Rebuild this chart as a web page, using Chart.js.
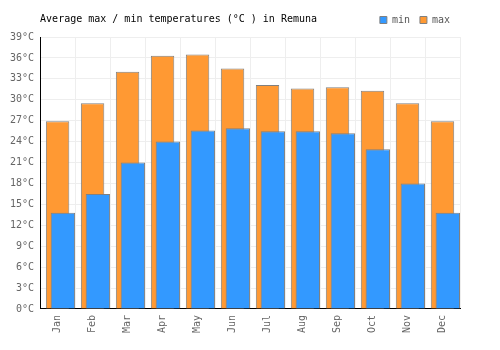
<!DOCTYPE html>
<html>
<head>
<meta charset="utf-8">
<script src="https://cdn.jsdelivr.net/npm/chart.js@4/dist/chart.umd.min.js"></script>
<style>
	body { margin: 0; background: #fff; }
	.chartBox { width: 500px; height: 350px; }
</style>
</head>
<body>
<div class="chartBox"><canvas id="myChart" width="500" height="350"></canvas></div>
<script>
// data
const months = ['Jan', 'Feb', 'Mar', 'Apr', 'May', 'Jun', 'Jul', 'Aug', 'Sep', 'Oct', 'Nov', 'Dec'];
const minTemps = [13.8, 16.5, 21.0, 24.0, 25.6, 25.9, 25.5, 25.5, 25.2, 22.9, 18.0, 13.8];
const maxTemps = [26.9, 29.5, 34.0, 36.3, 36.5, 34.5, 32.1, 31.6, 31.8, 31.3, 29.5, 26.9];
const titleText = 'Average max / min temperatures (°C ) in Remuna';

const FONT = 'DejaVu Sans Mono';

// title sits on the same row as the legend, so draw it by hand
const titlePlugin = {
	id: 'leftTitle',
	afterDraw(chart) {
		const ctx = chart.ctx;
		ctx.save();
		ctx.font = '10px "' + FONT + '"';
		ctx.fillStyle = '#000';
		ctx.textBaseline = 'middle';
		ctx.textAlign = 'left';
		ctx.fillText(titleText, chart.chartArea.left, 19);
		ctx.restore();
	},
};

// a bit more room under the legend
const legendGap = {
	id: 'legendGap',
	beforeInit(chart) {
		const fit = chart.legend.fit;
		chart.legend.fit = function () {
			fit.bind(chart.legend)();
			this.height += 2;
		};
	},
};

const data = {
	labels: months,
	datasets: [
		{
			// empty slot so the min bars sit to the right
			label: '',
			data: months.map(() => null),
			grouped: true,
			categoryPercentage: 0.606,
			barPercentage: 2.3,
		},
		{
			label: 'min',
			data: minTemps,
			backgroundColor: 'rgb(51, 153, 255)',
			borderColor: '#808080',
			borderWidth: 1,
			grouped: true,
			categoryPercentage: 0.606,
			barPercentage: 2.3,
		},
		{
			label: 'max',
			data: maxTemps,
			backgroundColor: 'rgb(255, 153, 51)',
			borderColor: '#808080',
			borderWidth: 1,
			grouped: false,
			categoryPercentage: 1,
			barPercentage: 0.67,
		},
	],
};

const config = {
	type: 'bar',
	data,
	options: {
		responsive: false,
		animation: false,
		layout: {
			padding: { left: 4, right: 40, top: 5, bottom: 11 },
		},
		plugins: {
			legend: {
				position: 'top',
				align: 'end',
				labels: {
					filter: (item) => item.datasetIndex !== 0,
					boxWidth: 7,
					boxHeight: 7,
					padding: 10,
					color: '#555',
					font: { family: FONT, size: 10 },
				},
			},
			tooltip: { enabled: false },
		},
		scales: {
			x: {
				grid: {
					color: '#eeeeee',
					drawTicks: false,
				},
				border: { color: '#000', width: 1 },
				ticks: {
					color: '#666',
					font: { family: FONT, size: 10 },
					minRotation: 90,
					maxRotation: 90,
					padding: 6,
				},
			},
			y: {
				min: 0,
				max: 39,
				grid: {
					color: '#eeeeee',
					drawTicks: false,
				},
				border: { color: '#000', width: 1 },
				ticks: {
					stepSize: 3,
					color: '#666',
					font: { family: FONT, size: 10 },
					padding: 6,
					callback: function (value) {
						return value + '°C';
					},
				},
			},
		},
	},
	plugins: [titlePlugin, legendGap],
};

const myChart = new Chart(document.getElementById('myChart'), config);
</script>
</body>
</html>
